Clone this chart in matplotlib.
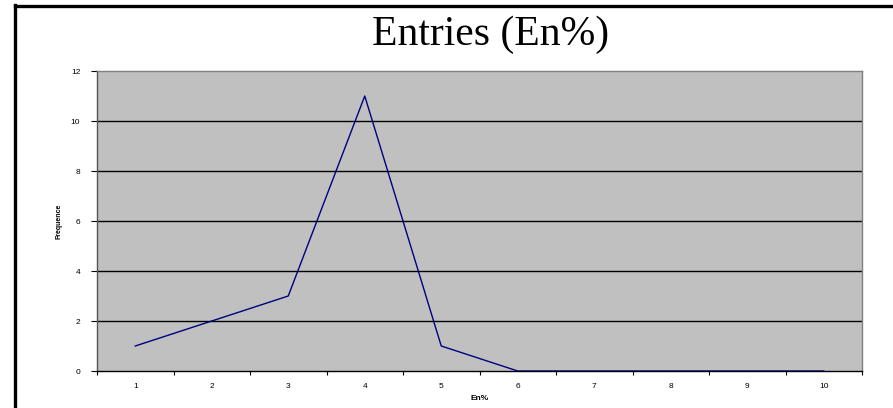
import matplotlib.pyplot as plt

# data
categories = [1, 2, 3, 4, 5, 6, 7, 8, 9, 10]
frequence = [1, 2, 3, 11, 1, 0, 0, 0, 0, 0]
y_ticks = [0, 2, 4, 6, 8, 10, 12]

W, H = 893, 408
fig = plt.figure(figsize=(W / 100, H / 100), dpi=100)
fig.patch.set_facecolor('white')

# outer chart border (left and top only visible in the crop)
fig.add_artist(plt.Line2D([14.5 / W, 14.5 / W], [0, 1 - 5 / H], transform=fig.transFigure,
                          color='black', lw=2.4))
fig.add_artist(plt.Line2D([14.5 / W, 1], [1 - 5.5 / H, 1 - 5.5 / H], transform=fig.transFigure,
                          color='black', lw=2.4))

left, right, top, bottom = 97, 862, 71, 371
ax = fig.add_axes([left / W, 1 - bottom / H, (right - left) / W, (bottom - top) / H])
ax.set_facecolor('#c0c0c0')

ax.plot(categories, frequence, color='#000080', lw=1.0, zorder=3)

ax.set_xlim(0.5, 10.5)
ax.set_ylim(0, 12)
ax.set_yticks(y_ticks)
ax.set_yticklabels([str(v) for v in y_ticks], fontsize=6, family='Liberation Sans')
for v in y_ticks[1:-1]:
    ax.axhline(v, color='black', lw=1.0, zorder=2)

ax.set_xticks([c + 0.5 for c in categories[:-1]] + [0.5, 10.5])
ax.set_xticklabels([])
ax.set_xticks(categories, minor=True)
ax.set_xticklabels([str(c) for c in categories], minor=True, fontsize=6, family='Liberation Sans')
ax.tick_params(axis='x', which='major', length=3, width=0.8, direction='out')
ax.tick_params(axis='x', which='minor', length=0, pad=9)
ax.tick_params(axis='y', length=4, width=0.8, direction='out', pad=8)

ax.spines['left'].set_color('#555555')
ax.spines['bottom'].set_color('black')
ax.spines['top'].set_color('#808080')
ax.spines['right'].set_color('#808080')
for s in ax.spines.values():
    s.set_linewidth(1.0)

ax.set_xlabel('En%', fontsize=6, fontweight='bold', family='Liberation Sans', labelpad=3)
ax.set_ylabel('Frequence', fontsize=5, fontweight='bold', family='Liberation Sans', labelpad=6)

fig.text(491 / W, 1 - 35 / H, 'Entries (En%)', ha='center', va='center',
         fontsize=30, family='Liberation Serif')

plt.savefig('out.png', dpi=100)
